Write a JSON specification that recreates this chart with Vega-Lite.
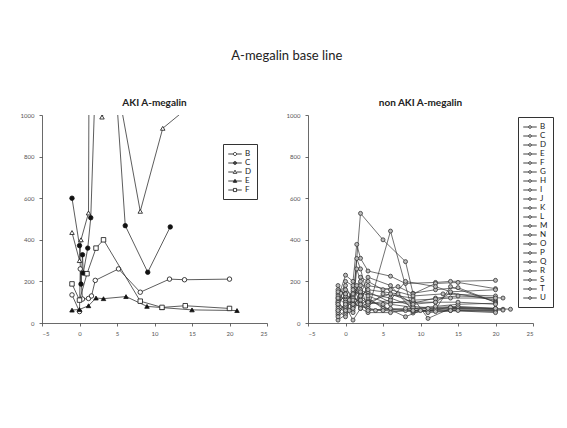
{
  "$schema": "https://vega.github.io/schema/vega-lite/v6.json",
  "background": "white",
  "padding": {"left": 20, "top": 50, "right": 5, "bottom": 5},
  "title": {"text": "A-megalin base line", "fontSize": 13, "font": "Lato", "fontWeight": "normal", "color": "#222", "offset": 35, "anchor": "middle"},
  "spacing": 41,
  "bounds": "flush",
  "config": {
    "view": {"stroke": null},
    "axis": {"labelFontSize": 6, "labelColor": "#555", "domainColor": "#444", "tickColor": "#444", "tickSize": 3, "grid": false, "labelFont": "Lato", "domainWidth": 0.8, "tickWidth": 0.8, "title": null},
    "axisY": {"labelPadding": 5},
    "axisX": {"labelPadding": 4},
    "title": {"font": "Lato", "fontSize": 10, "fontWeight": "bold", "color": "#222", "offset": 4},
    "legend": {"orient": "none", "title": null, "symbolSize": 81, "symbolStrokeWidth": 0.8, "symbolStrokeColor": "#111", "labelFontSize": 8, "labelFont": "Lato", "labelColor": "#222", "strokeColor": "#333", "fillColor": "white", "padding": 5, "rowPadding": 0, "labelOffset": 5, "symbolOffset": 2}
  },
  "datasets": {
    "aki": [
      {"id":"B","day":-1,"value":135},{"id":"B","day":0,"value":55},{"id":"B","day":0.1,"value":260},{"id":"B","day":0.4,"value":115},{"id":"B","day":1.2,"value":118},{"id":"B","day":1.6,"value":130},{"id":"B","day":2.1,"value":205},{"id":"B","day":5.2,"value":260},{"id":"B","day":8.1,"value":148},{"id":"B","day":12,"value":211},{"id":"B","day":14,"value":208},{"id":"B","day":20,"value":211},
      {"id":"C","day":-1,"value":600},{"id":"C","day":0,"value":372},{"id":"C","day":0.2,"value":187},{"id":"C","day":0.4,"value":328},{"id":"C","day":0.5,"value":240},{"id":"C","day":1.1,"value":360},{"id":"C","day":1.5,"value":506},{"id":"C","day":3,"value":2117},{"id":"C","day":6.1,"value":468},{"id":"C","day":9.1,"value":244},{"id":"C","day":12.1,"value":462},
      {"id":"D","day":-1,"value":435},{"id":"D","day":0,"value":300},{"id":"D","day":0.2,"value":400},{"id":"D","day":1.2,"value":529},{"id":"D","day":1.4,"value":2500},{"id":"D","day":3,"value":990},{"id":"D","day":5,"value":1150},{"id":"D","day":8.1,"value":537},{"id":"D","day":11.1,"value":936},{"id":"D","day":20,"value":1200},
      {"id":"E","day":-1,"value":62},{"id":"E","day":0,"value":65},{"id":"E","day":1.2,"value":83},{"id":"E","day":2.2,"value":120},{"id":"E","day":3.2,"value":117},{"id":"E","day":6.2,"value":127},{"id":"E","day":9,"value":80},{"id":"E","day":11,"value":74},{"id":"E","day":15,"value":63},{"id":"E","day":21,"value":60},
      {"id":"F","day":-1,"value":188},{"id":"F","day":0,"value":110},{"id":"F","day":1,"value":237},{"id":"F","day":2.2,"value":360},{"id":"F","day":3.2,"value":400},{"id":"F","day":8.1,"value":105},{"id":"F","day":11,"value":75},{"id":"F","day":14.1,"value":83},{"id":"F","day":20,"value":70}
    ],
    "non": [
      {"id":"B","day":-1,"value":180},{"id":"B","day":0,"value":120},{"id":"B","day":1,"value":90},{"id":"B","day":2,"value":527},{"id":"B","day":5,"value":400},{"id":"B","day":8,"value":295},{"id":"B","day":9,"value":143},{"id":"B","day":12,"value":160},{"id":"B","day":15,"value":170},{"id":"B","day":20,"value":100},
      {"id":"C","day":-1,"value":120},{"id":"C","day":0,"value":230},{"id":"C","day":1,"value":200},{"id":"C","day":1.5,"value":378},{"id":"C","day":2,"value":311},{"id":"C","day":3,"value":250},{"id":"C","day":6,"value":225},{"id":"C","day":8,"value":190},{"id":"C","day":12,"value":195},{"id":"C","day":14,"value":200},{"id":"C","day":20,"value":205},
      {"id":"D","day":-1,"value":60},{"id":"D","day":0,"value":90},{"id":"D","day":1,"value":150},{"id":"D","day":2,"value":180},{"id":"D","day":3,"value":60},{"id":"D","day":6,"value":442},{"id":"D","day":9,"value":48},{"id":"D","day":11,"value":60},{"id":"D","day":14,"value":75},{"id":"D","day":20,"value":70},
      {"id":"E","day":-1,"value":100},{"id":"E","day":0,"value":60},{"id":"E","day":1,"value":120},{"id":"E","day":2,"value":100},{"id":"E","day":3,"value":80},{"id":"E","day":5,"value":140},{"id":"E","day":9,"value":120},{"id":"E","day":11,"value":22},{"id":"E","day":14,"value":70},{"id":"E","day":21,"value":66},
      {"id":"F","day":-1,"value":140},{"id":"F","day":0,"value":180},{"id":"F","day":1,"value":100},{"id":"F","day":2,"value":220},{"id":"F","day":3,"value":200},{"id":"F","day":5,"value":160},{"id":"F","day":7,"value":175},{"id":"F","day":9,"value":140},{"id":"F","day":12,"value":190},{"id":"F","day":15,"value":195},{"id":"F","day":20,"value":165},
      {"id":"G","day":-1,"value":80},{"id":"G","day":0,"value":50},{"id":"G","day":1,"value":60},{"id":"G","day":2,"value":160},{"id":"G","day":3,"value":140},{"id":"G","day":6,"value":120},{"id":"G","day":9,"value":80},{"id":"G","day":12,"value":70},{"id":"G","day":14,"value":65},{"id":"G","day":20,"value":60},
      {"id":"H","day":-1,"value":40},{"id":"H","day":0,"value":100},{"id":"H","day":1,"value":80},{"id":"H","day":1.5,"value":260},{"id":"H","day":2,"value":200},{"id":"H","day":3,"value":150},{"id":"H","day":6,"value":100},{"id":"H","day":9,"value":95},{"id":"H","day":12,"value":120},{"id":"H","day":15,"value":130},{"id":"H","day":21,"value":120},
      {"id":"I","day":-1,"value":110},{"id":"I","day":0,"value":160},{"id":"I","day":1,"value":130},{"id":"I","day":2,"value":90},{"id":"I","day":3,"value":110},{"id":"I","day":5,"value":80},{"id":"I","day":8,"value":30},{"id":"I","day":10,"value":60},{"id":"I","day":14,"value":60},{"id":"I","day":20,"value":55},
      {"id":"J","day":-1,"value":90},{"id":"J","day":0,"value":70},{"id":"J","day":1,"value":50},{"id":"J","day":2,"value":130},{"id":"J","day":3,"value":100},{"id":"J","day":6,"value":140},{"id":"J","day":9,"value":100},{"id":"J","day":12,"value":100},{"id":"J","day":14,"value":145},{"id":"J","day":20,"value":110},
      {"id":"K","day":-1,"value":14},{"id":"K","day":0,"value":40},{"id":"K","day":0.5,"value":110},{"id":"K","day":1,"value":170},{"id":"K","day":2,"value":140},{"id":"K","day":3,"value":220},{"id":"K","day":6,"value":180},{"id":"K","day":9,"value":60},{"id":"K","day":12,"value":75},{"id":"K","day":15,"value":80},{"id":"K","day":22,"value":66},
      {"id":"L","day":-1,"value":160},{"id":"L","day":0,"value":140},{"id":"L","day":1,"value":100},{"id":"L","day":1.5,"value":310},{"id":"L","day":2,"value":260},{"id":"L","day":3,"value":120},{"id":"L","day":5,"value":70},{"id":"L","day":8,"value":60},{"id":"L","day":11,"value":60},{"id":"L","day":14,"value":70},{"id":"L","day":20,"value":65},
      {"id":"M","day":-1,"value":70},{"id":"M","day":0,"value":200},{"id":"M","day":1,"value":180},{"id":"M","day":2,"value":90},{"id":"M","day":3,"value":70},{"id":"M","day":5,"value":60},{"id":"M","day":9,"value":55},{"id":"M","day":12,"value":65},{"id":"M","day":14,"value":175},{"id":"M","day":20,"value":100},
      {"id":"N","day":-1,"value":50},{"id":"N","day":0,"value":80},{"id":"N","day":1,"value":14},{"id":"N","day":2,"value":70},{"id":"N","day":3,"value":50},{"id":"N","day":6,"value":50},{"id":"N","day":9,"value":70},{"id":"N","day":12,"value":80},{"id":"N","day":15,"value":90},{"id":"N","day":20,"value":95},
      {"id":"O","day":-1,"value":130},{"id":"O","day":0,"value":110},{"id":"O","day":1,"value":90},{"id":"O","day":2,"value":120},{"id":"O","day":3,"value":90},{"id":"O","day":6,"value":110},{"id":"O","day":8,"value":200},{"id":"O","day":12,"value":175},{"id":"O","day":14,"value":150},{"id":"O","day":20,"value":160},
      {"id":"P","day":-1,"value":100},{"id":"P","day":0,"value":130},{"id":"P","day":0.5,"value":60},{"id":"P","day":1,"value":120},{"id":"P","day":2,"value":110},{"id":"P","day":3,"value":180},{"id":"P","day":6,"value":160},{"id":"P","day":9,"value":130},{"id":"P","day":13,"value":140},{"id":"P","day":20,"value":130},
      {"id":"Q","day":-1,"value":60},{"id":"Q","day":0,"value":30},{"id":"Q","day":1,"value":90},{"id":"Q","day":2,"value":80},{"id":"Q","day":4,"value":60},{"id":"Q","day":8,"value":70},{"id":"Q","day":11,"value":70},{"id":"Q","day":14,"value":75},{"id":"Q","day":20,"value":70},
      {"id":"R","day":-1,"value":150},{"id":"R","day":0,"value":100},{"id":"R","day":1,"value":140},{"id":"R","day":2,"value":150},{"id":"R","day":3,"value":130},{"id":"R","day":6,"value":90},{"id":"R","day":9,"value":75},{"id":"R","day":11,"value":50},{"id":"R","day":15,"value":60},{"id":"R","day":21,"value":62},
      {"id":"S","day":-1,"value":90},{"id":"S","day":0,"value":140},{"id":"S","day":1,"value":110},{"id":"S","day":2,"value":70},{"id":"S","day":3,"value":100},{"id":"S","day":5,"value":90},{"id":"S","day":9,"value":110},{"id":"S","day":12,"value":115},{"id":"S","day":14,"value":120},{"id":"S","day":20,"value":120},
      {"id":"T","day":-1,"value":120},{"id":"T","day":0,"value":90},{"id":"T","day":1,"value":160},{"id":"T","day":2,"value":130},{"id":"T","day":3,"value":160},{"id":"T","day":7,"value":140},{"id":"T","day":9,"value":90},{"id":"T","day":12,"value":100},{"id":"T","day":15,"value":100},{"id":"T","day":20,"value":90},
      {"id":"U","day":-1,"value":30},{"id":"U","day":0,"value":60},{"id":"U","day":1,"value":70},{"id":"U","day":1.5,"value":180},{"id":"U","day":2,"value":90},{"id":"U","day":3,"value":60},{"id":"U","day":6,"value":70},{"id":"U","day":9,"value":60},{"id":"U","day":12,"value":55},{"id":"U","day":14,"value":60},{"id":"U","day":20,"value":50}
    ]
  },
  "hconcat": [
    {
      "width": 225,
      "height": 208,
      "title": {"text": "AKI A-megalin"},
      "data": {"name": "aki"},
      "encoding": {
        "x": {"field": "day", "type": "quantitative", "scale": {"domain": [-5, 25], "nice": false, "zero": false}, "axis": {"values": [-5, 0, 5, 10, 15, 20, 25]}},
        "y": {"field": "value", "type": "quantitative", "scale": {"domain": [0, 1000], "nice": false}, "axis": {"values": [0, 200, 400, 600, 800, 1000], "format": "d"}}
      },
      "layer": [
        {"mark": {"type": "line", "clip": true, "color": "#333", "strokeWidth": 0.8}, "encoding": {"detail": {"field": "id"}}},
        {"mark": {"type": "point", "clip": true, "filled": true, "size": 20, "stroke": "#111", "strokeWidth": 0.8, "opacity": 1},
         "encoding": {
           "shape": {"field": "id", "scale": {"domain": ["B","C","D","E","F"], "range": ["circle","circle","triangle-up","triangle-up","square"]}, "legend": null},
           "fill": {"field": "id", "scale": {"domain": ["B","C","D","E","F"], "range": ["white","#111","white","#111","white"]}, "legend": null}
         }},
        {"transform": [{"filter": "false"}],
         "mark": {"type": "point", "filled": false, "opacity": 1, "color": "#111"},
         "encoding": {
           "shape": {"field": "id", "scale": {"domain": ["B","C","D","E","F"], "range": [
             "M-1.5,0H-0.35M0.35,0H1.5M-0.35,0A0.35,0.35 0 1 0 0.35,0A0.35,0.35 0 1 0 -0.35,0Z",
             "M-1.5,0H-0.35M0.35,0H1.5M-0.35,0A0.35,0.35 0 1 0 0.35,0A0.35,0.35 0 1 0 -0.35,0ZM-0.17,0A0.17,0.17 0 1 0 0.17,0A0.17,0.17 0 1 0 -0.17,0ZM-0.35,0H0.35",
             "M-1.5,0H-0.4M0.4,0H1.5M-0.4,0.3L0,-0.4L0.4,0.3Z",
             "M-1.5,0H1.5M-0.4,0.3L0,-0.4L0.4,0.3ZM-0.2,0.18L0,-0.17L0.2,0.18Z",
             "M-1.5,0H-0.35M0.35,0H1.5M-0.35,-0.35H0.35V0.35H-0.35Z"
           ]},
           "legend": {"legendX": 181, "legendY": 29, "encode": {"symbols": {"update": {"fill": {"signal": "indexof(['C','E'], datum.value) >= 0 ? '#111' : 'white'"}, "stroke": {"value": "#111"}}}, "labels": {"update": {"fill": {"value": "#222"}}}}}}
         }}
      ],
      "resolve": {"scale": {"shape": "independent", "fill": "independent"}, "legend": {"shape": "independent"}}
    },
    {
      "width": 225,
      "height": 208,
      "title": {"text": "non AKI A-megalin"},
      "data": {"name": "non"},
      "encoding": {
        "x": {"field": "day", "type": "quantitative", "scale": {"domain": [-5, 25], "nice": false, "zero": false}, "axis": {"values": [-5, 0, 5, 10, 15, 20, 25]}},
        "y": {"field": "value", "type": "quantitative", "scale": {"domain": [0, 1000], "nice": false}, "axis": {"values": [0, 200, 400, 600, 800, 1000], "format": "d"}}
      },
      "layer": [
        {"mark": {"type": "line", "clip": true, "color": "#333", "strokeWidth": 0.7}, "encoding": {"detail": {"field": "id"}}},
        {"mark": {"type": "point", "clip": true, "filled": true, "size": 16, "fill": "#bbb", "stroke": "#333", "strokeWidth": 0.8, "opacity": 1, "shape": "circle"}, "encoding": {"detail": {"field": "id"}}},
        {"transform": [{"filter": "false"}],
         "mark": {"type": "point", "filled": false, "opacity": 1, "color": "#111"},
         "encoding": {
           "shape": {"field": "id", "scale": {"domain": ["B","C","D","E","F","G","H","I","J","K","L","M","N","O","P","Q","R","S","T","U"], "range": ["M-1.5,0H-0.3M0.3,0H1.5M-0.3,0A0.3,0.3 0 1 0 0.3,0A0.3,0.3 0 1 0 -0.3,0Z"]},
           "legend": {"legendX": 210, "legendY": 2, "encode": {"symbols": {"update": {"fill": {"value": "#999"}, "stroke": {"value": "#333"}}}, "labels": {"update": {"fill": {"value": "#222"}}}}}}
         }}
      ],
      "resolve": {"scale": {"shape": "independent"}, "legend": {"shape": "independent"}}
    }
  ]
}
